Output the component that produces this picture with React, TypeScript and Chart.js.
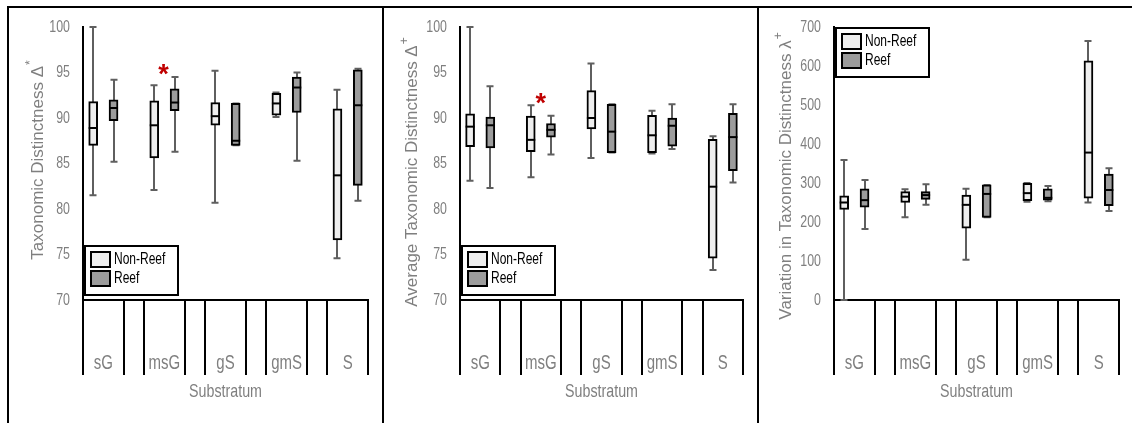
import React, { useEffect, useRef } from 'react';
import { Chart, registerables } from 'chart.js';

Chart.register(...registerables);

const SANS = '"Liberation Sans", Arial, sans-serif';
const TEXT_GRAY = '#7f7f7f';
const NARROW_FACTOR = 0.75;

// ---------- data ----------
const substrata = ['sG', 'msG', 'gS', 'gmS', 'S'];
const seriesNames = ['Non-Reef', 'Reef'];
const xAxisTitle = 'Substratum';

// each entry: [min, q1, median, q3, max]
const tdNonReef = [
  [81.5, 87.0, 88.9, 91.8, 100.0],
  [82.1, 85.6, 89.2, 91.9, 93.6],
  [80.7, 89.2, 90.2, 91.7, 95.2],
  [90.1, 90.3, 91.6, 92.7, 92.8],
  [74.6, 76.6, 83.7, 91.0, 93.1],
];
const tdReef = [
  [85.2, 89.7, 91.1, 92.0, 94.2],
  [86.3, 90.8, 91.7, 93.2, 94.5],
  [87.0, 87.0, 87.5, 91.6, 91.6],
  [85.3, 90.6, 93.35, 94.5, 95.0],
  [80.9, 82.6, 91.4, 95.3, 95.4],
];
const avgTdNonReef = [
  [83.1, 86.85, 89.05, 90.45, 100.0],
  [83.5, 86.3, 87.6, 90.2, 91.4],
  [85.6, 88.8, 90.0, 93.0, 96.0],
  [86.1, 86.2, 88.1, 90.3, 90.8],
  [73.3, 74.6, 82.45, 87.65, 88.0],
];
const avgTdReef = [
  [82.3, 86.7, 89.2, 90.1, 93.5],
  [86.0, 87.9, 88.7, 89.4, 90.25],
  [86.2, 86.2, 88.5, 91.5, 91.5],
  [86.6, 86.9, 89.15, 90.0, 91.5],
  [82.9, 84.2, 87.9, 90.5, 91.5],
];
const varTdNonReef = [
  [0, 232, 250, 267, 359],
  [212, 250, 265, 278, 284],
  [103, 184, 244, 269, 285],
  [252, 255, 274, 299, 300],
  [250, 261, 378, 613, 664],
];
const varTdReef = [
  [182, 238, 256, 285, 308],
  [244, 258, 269, 278, 297],
  [212, 212, 272, 295, 295],
  [253, 256, 262, 285, 292],
  [228, 242, 282, 323, 338],
];

// significance marks: [slot position, value]
const tdSignificance = [[3.45, 95.3]];
const avgTdSignificance = [[3.5, 92.1]];
const varTdSignificance: number[][] = [];

// y ticks: [min, max, step]
const tdTicks = [70, 100, 5];
const avgTdTicks = [70, 100, 5];
const varTdTicks = [0, 700, 100];

// ---------- helpers ----------
const SLOTS = substrata.length * 3 - 1;

function slotLabels(): string[] {
  const out: string[] = [];
  substrata.forEach((s, g) => {
    out.push(`${s} ${seriesNames[0]}`, `${s} ${seriesNames[1]}`);
    if (g < substrata.length - 1) out.push('');
  });
  return out;
}

function bySlot(stats: number[][], offset: number) {
  const arr: (number[] | null)[] = new Array(SLOTS).fill(null);
  stats.forEach((s, g) => {
    arr[3 * g + offset] = s;
  });
  return arr;
}

function narrowText(
  ctx: CanvasRenderingContext2D,
  text: string,
  x: number,
  y: number,
  size: number,
  color: string,
  align: CanvasTextAlign,
) {
  ctx.save();
  ctx.font = `${size}px ${SANS}`;
  ctx.fillStyle = color;
  ctx.textAlign = align;
  ctx.textBaseline = 'middle';
  ctx.translate(x, y);
  ctx.scale(NARROW_FACTOR, 1);
  ctx.fillText(text, 0, 0);
  ctx.restore();
}

type PanelCfg = {
  canvasLeft: number;
  canvasWidth: number;
  axisLeft: number;
  axisRight: number;
  title: string;
  sup: string;
  titleX: number;
  titleY: number;
  ticks: number[];
  nonReef: number[][];
  reef: number[][];
  sig: number[][];
  legendTop: boolean;
};

const panels: PanelCfg[] = [
  {
    canvasLeft: 9, canvasWidth: 373, axisLeft: 83, axisRight: 368,
    title: 'Taxonomic Distinctness Δ', sup: '*', titleX: 38, titleY: 160,
    ticks: tdTicks, nonReef: tdNonReef, reef: tdReef, sig: tdSignificance, legendTop: false,
  },
  {
    canvasLeft: 384, canvasWidth: 373, axisLeft: 460, axisRight: 743,
    title: 'Average Taxonomic Distinctness Δ', sup: '+', titleX: 412, titleY: 172,
    ticks: avgTdTicks, nonReef: avgTdNonReef, reef: avgTdReef, sig: avgTdSignificance, legendTop: false,
  },
  {
    canvasLeft: 759, canvasWidth: 373, axisLeft: 834, axisRight: 1119,
    title: 'Variation in Taxonomic Distinctness λ', sup: '+', titleX: 786, titleY: 176,
    ticks: varTdTicks, nonReef: varTdNonReef, reef: varTdReef, sig: varTdSignificance, legendTop: true,
  },
];

const PLOT_TOP = 27;
const PLOT_BOTTOM = 300;
const CANVAS_H = 423;

function makePlugin(cfg: PanelCfg) {
  return {
    id: 'boxExtras',
    beforeDatasetsDraw(chart: any) {
      const { ctx } = chart;
      const ys = chart.scales.y;
      chart.data.datasets.forEach((ds: any, di: number) => {
        const meta = chart.getDatasetMeta(di);
        meta.data.forEach((el: any, i: number) => {
          const st = ds.stats[i];
          if (!st) return;
          const x = Math.round(el.x);
          const y0 = ys.getPixelForValue(st[0]);
          const y4 = ys.getPixelForValue(st[4]);
          ctx.save();
          ctx.strokeStyle = '#5f5f5f';
          ctx.lineWidth = 2;
          ctx.beginPath();
          ctx.moveTo(x, y0);
          ctx.lineTo(x, y4);
          ctx.moveTo(x - 3.5, y0);
          ctx.lineTo(x + 3.5, y0);
          ctx.moveTo(x - 3.5, y4);
          ctx.lineTo(x + 3.5, y4);
          ctx.stroke();
          ctx.restore();
        });
      });
    },
    afterDatasetsDraw(chart: any) {
      const { ctx } = chart;
      const ys = chart.scales.y;
      chart.data.datasets.forEach((ds: any, di: number) => {
        const meta = chart.getDatasetMeta(di);
        meta.data.forEach((el: any, i: number) => {
          const st = ds.stats[i];
          if (!st) return;
          const y = ys.getPixelForValue(st[2]);
          ctx.save();
          ctx.strokeStyle = '#000';
          ctx.lineWidth = 2;
          ctx.beginPath();
          ctx.moveTo(el.x - el.width / 2, y);
          ctx.lineTo(el.x + el.width / 2, y);
          ctx.stroke();
          ctx.restore();
        });
      });
    },
    afterDraw(chart: any) {
      const { ctx, chartArea } = chart;
      const xs = chart.scales.x;
      const ys = chart.scales.y;
      const bottom = chartArea.bottom;

      // y tick labels (from the library's own ticks)
      ys.ticks.forEach((t: any) => {
        narrowText(ctx, String(t.label ?? t.value), chartArea.left - 13, ys.getPixelForValue(t.value), 16.5, TEXT_GRAY, 'right');
      });

      // multi-level category separators
      ctx.save();
      ctx.strokeStyle = '#000';
      ctx.lineWidth = 2;
      ctx.beginPath();
      substrata.forEach((_, g) => {
        [3 * g - 0.5, 3 * g + 1.5].forEach((b) => {
          const x = Math.round(xs.getPixelForValue(b));
          ctx.moveTo(x, bottom);
          ctx.lineTo(x, bottom + 75);
        });
      });
      ctx.stroke();
      ctx.restore();

      // category labels
      substrata.forEach((s, g) => {
        narrowText(ctx, s, xs.getPixelForValue(3 * g + 0.5), bottom + 63, 20, TEXT_GRAY, 'center');
      });
      // axis title
      narrowText(ctx, xAxisTitle, (chartArea.left + chartArea.right) / 2, bottom + 92, 19, TEXT_GRAY, 'center');

      // y title (rotated)
      ctx.save();
      ctx.fillStyle = TEXT_GRAY;
      ctx.textBaseline = 'middle';
      ctx.translate(cfg.titleX - cfg.canvasLeft, cfg.titleY);
      ctx.rotate(-Math.PI / 2);
      ctx.font = `17px ${SANS}`;
      const mainW = ctx.measureText(cfg.title).width;
      ctx.font = `12px ${SANS}`;
      const supW = ctx.measureText(cfg.sup).width;
      const start = -(mainW + supW + 1) / 2;
      ctx.textAlign = 'left';
      ctx.font = `17px ${SANS}`;
      ctx.fillText(cfg.title, start, 0);
      ctx.font = `12px ${SANS}`;
      ctx.fillText(cfg.sup, start + mainW + 1, -7);
      ctx.restore();

      // legend
      const lx = chartArea.left + 2;
      const ly = cfg.legendTop ? chartArea.top + 1 : bottom - 54;
      ctx.save();
      ctx.fillStyle = '#fff';
      ctx.fillRect(lx, ly, 93, 49);
      ctx.strokeStyle = '#000';
      ctx.lineWidth = 2;
      ctx.strokeRect(lx, ly, 93, 49);
      chart.data.datasets.forEach((ds: any, di: number) => {
        const sy = ly + 6 + di * 19;
        ctx.fillStyle = ds.backgroundColor;
        ctx.fillRect(lx + 6, sy, 19, 15);
        ctx.strokeStyle = '#000';
        ctx.lineWidth = 2;
        ctx.strokeRect(lx + 6, sy, 19, 15);
        narrowText(ctx, ds.label, lx + 29, sy + 8, 16, '#000', 'left');
      });
      ctx.restore();

      // significance marks
      ctx.save();
      ctx.fillStyle = '#c00000';
      ctx.font = `bold 27px ${SANS}`;
      ctx.textAlign = 'center';
      ctx.textBaseline = 'alphabetic';
      cfg.sig.forEach(([slot, v]) => {
        const m = ctx.measureText('*');
        const x = xs.getPixelForValue(slot);
        const y = ys.getPixelForValue(v);
        ctx.fillText('*', x, y + (m.actualBoundingBoxAscent - m.actualBoundingBoxDescent) / 2);
      });
      ctx.restore();
    },
  };
}

function Panel({ cfg }: { cfg: PanelCfg }) {
  const ref = useRef<HTMLCanvasElement | null>(null);
  useEffect(() => {
    if (!ref.current) return;
    const yWidth = cfg.axisLeft - cfg.canvasLeft;
    const padRight = cfg.canvasLeft + cfg.canvasWidth - cfg.axisRight;
    const [yMin, yMax, yStep] = cfg.ticks;
    const nrSlots = bySlot(cfg.nonReef, 0);
    const rSlots = bySlot(cfg.reef, 1);
    const chart = new Chart(ref.current, {
      type: 'bar',
      data: {
        labels: slotLabels(),
        datasets: [
          {
            label: seriesNames[0],
            data: nrSlots.map((s) => (s ? [s[1], s[3]] : null)) as any,
            stats: nrSlots,
            backgroundColor: '#eeeeee',
            borderColor: '#000',
            borderWidth: 2,
            borderSkipped: false,
            barThickness: 9,
            grouped: false,
          } as any,
          {
            label: seriesNames[1],
            data: rSlots.map((s) => (s ? [s[1], s[3]] : null)) as any,
            stats: rSlots,
            backgroundColor: '#9c9c9c',
            borderColor: '#000',
            borderWidth: 2,
            borderSkipped: false,
            barThickness: 9,
            grouped: false,
          } as any,
        ],
      },
      options: {
        responsive: false,
        maintainAspectRatio: false,
        animation: false,
        events: [],
        layout: { padding: { top: PLOT_TOP, right: padRight, left: 0, bottom: 0 } },
        plugins: { legend: { display: false }, tooltip: { enabled: false }, title: { display: false } },
        scales: {
          x: {
            type: 'category',
            offset: true,
            grid: { display: false, drawTicks: false },
            border: { display: true, color: '#000', width: 2 },
            ticks: { display: false },
            afterFit: (scale: any) => {
              scale.height = CANVAS_H - PLOT_BOTTOM;
            },
          },
          y: {
            min: yMin,
            max: yMax,
            grid: { display: false, drawTicks: false },
            border: { display: true, color: '#000', width: 2 },
            ticks: {
              stepSize: yStep,
              display: false,
            },
            afterFit: (scale: any) => {
              scale.width = yWidth;
            },
          },
        },
      } as any,
      plugins: [makePlugin(cfg) as any],
    });
    return () => chart.destroy();
  }, [cfg]);
  return (
    <canvas
      ref={ref}
      width={cfg.canvasWidth}
      height={CANVAS_H}
      style={{ position: 'absolute', left: cfg.canvasLeft, top: 0, width: cfg.canvasWidth, height: CANVAS_H, display: 'block' }}
    />
  );
}

export default function App() {
  const line = (l: number, t: number, w: number, h: number) => (
    <div style={{ position: 'absolute', left: l, top: t, width: w, height: h, background: '#000' }} />
  );
  return (
    <div style={{ position: 'absolute', left: 0, top: 0, width: 1132, height: 423, background: '#fff', overflow: 'hidden' }}>
      {panels.map((p, i) => (
        <Panel key={i} cfg={p} />
      ))}
      {line(7, 6, 1125, 2)}
      {line(7, 6, 2, 417)}
      {line(382, 6, 2, 417)}
      {line(757, 6, 2, 417)}
    </div>
  );
}
